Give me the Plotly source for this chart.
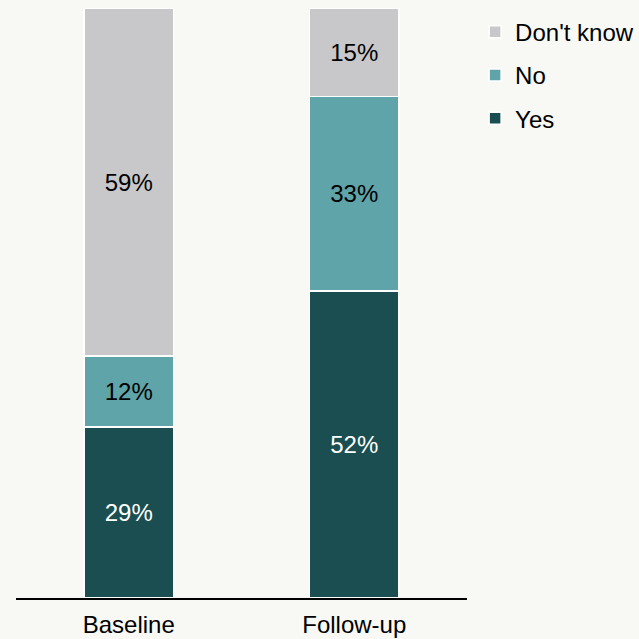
import plotly.graph_objects as go

categories = ["Baseline", "Follow-up"]
yes = [29, 52]
no = [12, 33]
dont_know = [59, 15]

series = [
    ("Yes", yes, "#1b4e50", "white", 3),
    ("No", no, "#5fa4a9", "black", 2),
    ("Don't know", dont_know, "#c8c8ca", "black", 1),
]

FONT = "Liberation Sans, Arial, sans-serif"

fig = go.Figure()
for name, vals, color, tcolor, rank in series:
    fig.add_trace(go.Bar(
        x=categories, y=vals, name=name, legendgroup=name, legendrank=rank,
        marker=dict(color=color, line=dict(color="white", width=1.5)),
        text=[f"{v}%" for v in vals], textposition="inside",
        insidetextanchor="middle",
        textfont=dict(color=tcolor, size=24, family=FONT),
        hoverinfo="skip",
    ))

fig.update_layout(
    barmode="stack", bargap=0.605,
    width=639, height=639,
    margin=dict(l=16, r=172, t=8, b=41, autoexpand=False),
    paper_bgcolor="#f8f8f4", plot_bgcolor="#f8f8f4",
    font=dict(family=FONT, size=24, color="black"),
    showlegend=True,
    legend=dict(x=1.018, y=0.997, xanchor="left", yanchor="top",
                traceorder="grouped", tracegroupgap=9,
                bgcolor="rgba(0,0,0,0)", font=dict(size=24)),
    uniformtext=dict(minsize=24, mode="show"),
)
fig.update_xaxes(showline=True, linecolor="black", linewidth=2, ticks="",
                 showgrid=False, tickfont=dict(size=24), range=[-0.5, 1.5],
                 ticklabelstandoff=4)
fig.update_yaxes(visible=False, range=[0, 100], showgrid=False)

fig.write_html("out.html",
               config={"displayModeBar": False},
               post_script="document.body.style.margin='0';document.body.style.overflow='hidden';")
